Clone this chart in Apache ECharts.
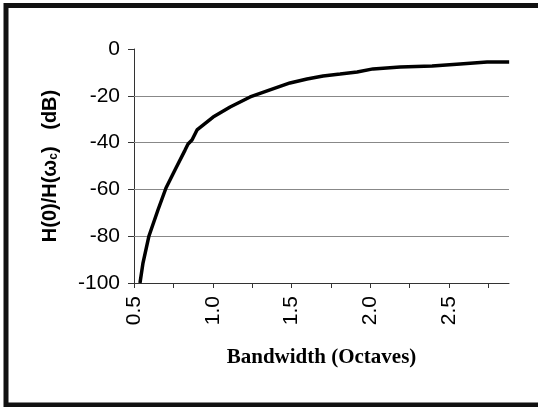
<!DOCTYPE html>
<html>
<head>
<meta charset="utf-8">
<script src="https://cdn.jsdelivr.net/npm/echarts@6/dist/echarts.min.js"></script>
<style>
html,body{margin:0;padding:0;background:#fff;}
#bw{width:538px;height:407px;}
</style>
</head>
<body>
<div id="bw"></div>
<script>
// bandwidth in octaves vs attenuation (dB)
var octaves = [0.538, 0.557, 0.595, 0.652, 0.703, 0.760, 0.824, 0.843, 0.868, 0.900, 1.002, 1.110, 1.237, 1.363, 1.490, 1.598, 1.700, 1.808, 1.916, 2.017, 2.189, 2.392, 2.570, 2.741, 2.881];
var gainDb = [-100, -91.5, -79.9, -68.8, -59.4, -51.7, -43.2, -40.6, -38.9, -34.6, -29.1, -24.8, -20.5, -17.5, -14.5, -12.8, -11.5, -10.7, -9.8, -8.5, -7.7, -7.3, -6.4, -5.6, -5.6];
var xTicks = [0.5, 0.75, 1.0, 1.25, 1.5, 1.75, 2.0, 2.25, 2.5, 2.75];
var xLabels = [0.5, 1.0, 1.5, 2.0, 2.5];
var gridDb = [-20, -40, -60, -80];

var bwChart = echarts.init(document.getElementById('bw'));
var pts = octaves.map(function(v, i){ return [v, gainDb[i]]; });
var option = {
    backgroundColor: '#fff',
    animation: false,
    graphic: [{
        type: 'rect',
        shape: {x: 6, y: 5.5, width: 600, height: 399.5},
        style: {fill: 'none', stroke: '#111', lineWidth: 5}
    }],
    grid: {
        left: 134,
        top: 49,
        right: 29,
        bottom: 124
    },
    xAxis: {
        type: 'value',
        min: 0.5,
        max: 2.88,
        name: 'Bandwidth (Octaves)',
        nameLocation: 'middle',
        nameGap: 64,
        nameTextStyle: {
            fontFamily: 'Liberation Serif',
            fontWeight: 'bold',
            fontSize: 21,
            color: '#000'
        },
        axisLine: {onZero: false, lineStyle: {color: '#333', width: 1}},
        axisTick: {
            show: true,
            length: 5,
            customValues: xTicks,
            lineStyle: {color: '#333'}
        },
        axisLabel: {
            rotate: 90,
            customValues: xLabels,
            formatter: function(v){ return v.toFixed(1); },
            fontFamily: 'Liberation Sans',
            fontSize: 21,
            color: '#000',
            margin: 13
        },
        splitLine: {show: false}
    },
    yAxis: {
        type: 'value',
        min: -100,
        max: 0,
        interval: 20,
        name: 'H(0)/H(ω{sub|c})   (dB)',
        nameLocation: 'middle',
        nameGap: 74,
        nameTextStyle: {
            fontFamily: 'Liberation Sans',
            fontWeight: 'bold',
            fontSize: 20,
            color: '#000',
            rich: {
                sub: {
                    fontFamily: 'Liberation Sans',
                    fontWeight: 'bold',
                    fontSize: 12,
                    verticalAlign: 'bottom',
                    padding: [7, 0, 0, 0],
                    color: '#000'
                }
            }
        },
        axisLine: {show: true, onZero: false, lineStyle: {color: '#333', width: 1}},
        axisTick: {show: true, length: 6, lineStyle: {color: '#333'}},
        axisLabel: {
            fontFamily: 'Liberation Sans',
            fontSize: 21,
            color: '#000',
            margin: 14
        },
        splitLine: {show: false}
    },
    series: [{
        type: 'line',
        data: pts,
        showSymbol: false,
        smooth: false,
        lineStyle: {color: '#000', width: 3.5},
        itemStyle: {color: '#000'},
        z: 3,
        markLine: {
            silent: true,
            symbol: ['none', 'none'],
            label: {show: false},
            lineStyle: {color: '#888', width: 1, type: 'solid'},
            data: gridDb.map(function(v){ return {yAxis: v}; }),
            z: 1
        }
    }]
};
bwChart.setOption(option);
window.addEventListener("resize", function(){
    bwChart.resize();
});
</script>
</body>
</html>
